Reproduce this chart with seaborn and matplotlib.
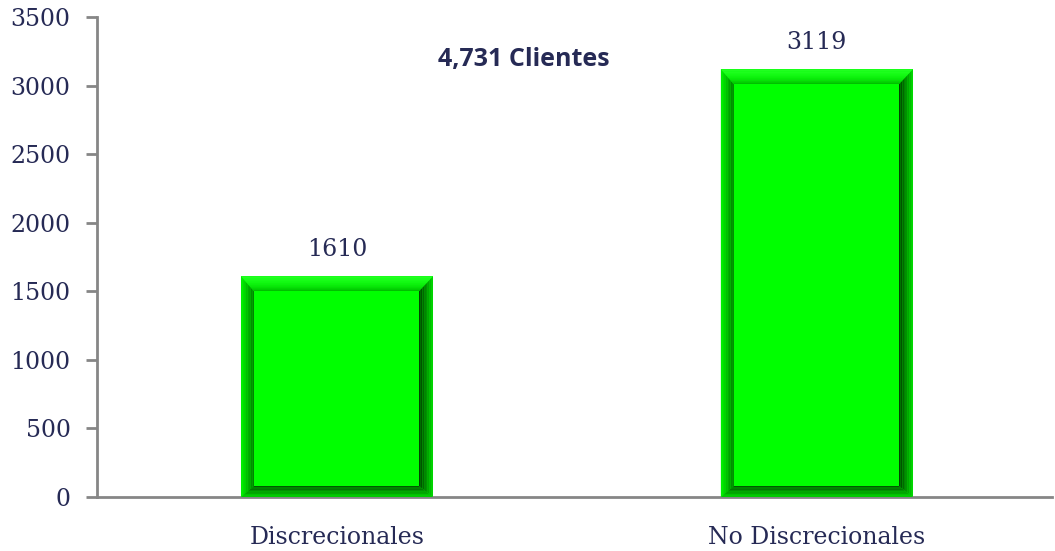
import matplotlib
matplotlib.use("Agg")
import matplotlib.pyplot as plt
import seaborn as sns
import numpy as np
import pandas as pd
from matplotlib.patches import Polygon

categories = ["Discrecionales", "No Discrecionales"]
values = [1610, 3119]
yticks = [0, 500, 1000, 1500, 2000, 2500, 3000, 3500]
total_label = "4,731 Clientes"

sns.set_theme(style="white")
plt.rcParams['font.family'] = ['DejaVu Serif']

W, H = 1055, 551
fig = plt.figure(figsize=(W / 100, H / 100), dpi=100)
ax_left, ax_bottom, ax_w, ax_h = 97 / W, 54 / H, 955 / W, 480 / H
ax = fig.add_axes([ax_left, ax_bottom, ax_w, ax_h])

df = pd.DataFrame({"cat": categories, "val": values})
sns.barplot(data=df, x="cat", y="val", color="#00ff00", width=0.4, ax=ax,
            saturation=1, edgecolor="none", linewidth=0)

xlim = (-0.5, 1.49)
ylim = (0, 3500)
ax.set_xlim(*xlim)
ax.set_ylim(*ylim)

# bevel effect built from the bar patches
px_x = (xlim[1] - xlim[0]) / 955.0
px_y = (ylim[1] - ylim[0]) / 480.0
txt = "#262a55"
for p in list(ax.patches):
    x0, w, h = p.get_x(), p.get_width(), p.get_height()
    x1 = x0 + w
    il, ir, it, ib = 13 * px_x, 14 * px_x, 15 * px_y, 11 * px_y
    N = 8
    for k in range(N):
        f0, f1 = k / N, (k + 1) / N
        # left band
        c = np.array([0.0, 1.0 - 0.5 * f1, 0.0])
        ax.add_patch(Polygon([[x0 + il * f0, h - it * f0], [x0 + il * f1, h - it * f1],
                              [x0 + il * f1, ib * f1], [x0 + il * f0, ib * f0]],
                             closed=True, facecolor=c, edgecolor="none", zorder=3))
        # right band
        c = np.array([0.0, 0.9 - 0.65 * f1, 0.0])
        ax.add_patch(Polygon([[x1 - ir * f0, h - it * f0], [x1 - ir * f1, h - it * f1],
                              [x1 - ir * f1, ib * f1], [x1 - ir * f0, ib * f0]],
                             closed=True, facecolor=c, edgecolor="none", zorder=3))
        # top band
        c = np.array([0.15 - 0.15 * f1, 1.0 - 0.25 * (f1 ** 3), 0.15 - 0.15 * f1])
        ax.add_patch(Polygon([[x0 + il * f0, h - it * f0], [x1 - ir * f0, h - it * f0],
                              [x1 - ir * f1, h - it * f1], [x0 + il * f1, h - it * f1]],
                             closed=True, facecolor=c, edgecolor="none", zorder=3))
        # bottom band
        c = np.array([0.0, 0.85 - 0.5 * f1, 0.0])
        ax.add_patch(Polygon([[x0 + il * f0, ib * f0], [x1 - ir * f0, ib * f0],
                              [x1 - ir * f1, ib * f1], [x0 + il * f1, ib * f1]],
                             closed=True, facecolor=c, edgecolor="none", zorder=3))
    ax.add_patch(Polygon([[x0 + il, ib], [x1 - ir, ib], [x1 - ir, h - it], [x0 + il, h - it]],
                         closed=True, facecolor="#00ff00", edgecolor="none", zorder=4))

for i, v in enumerate(values):
    ax.annotate(f"{v}", (i, v), xytext=(0, 19), textcoords="offset points",
                ha="center", va="center", fontsize=17, color=txt,
                family=["DejaVu Serif"])

ax.text(0.39, 3190, total_label, ha="center", va="center", fontsize=18,
        fontweight="bold", color=txt, family=["Open Sans", "DejaVu Sans"])

ax.set_yticks(yticks)
ax.set_yticklabels([str(t) for t in yticks], fontsize=17, color=txt)
ax.set_xticks(range(len(categories)))
ax.set_xticklabels(categories, fontsize=17, color=txt)
ax.set_xticks([-0.5], minor=True)
ax.tick_params(axis="x", which="major", length=0, pad=21)
ax.tick_params(axis="x", which="minor", length=7, width=2, color="#868686", direction="out")
ax.tick_params(axis="y", length=8, width=2, color="#868686", direction="out", pad=11, left=True)
ax.set_xlabel("")
ax.set_ylabel("")

for s in ["top", "right"]:
    ax.spines[s].set_visible(False)
for s in ["left", "bottom"]:
    ax.spines[s].set_color("#868686")
    ax.spines[s].set_linewidth(2)

fig.savefig("out.png", dpi=100, facecolor="white")
